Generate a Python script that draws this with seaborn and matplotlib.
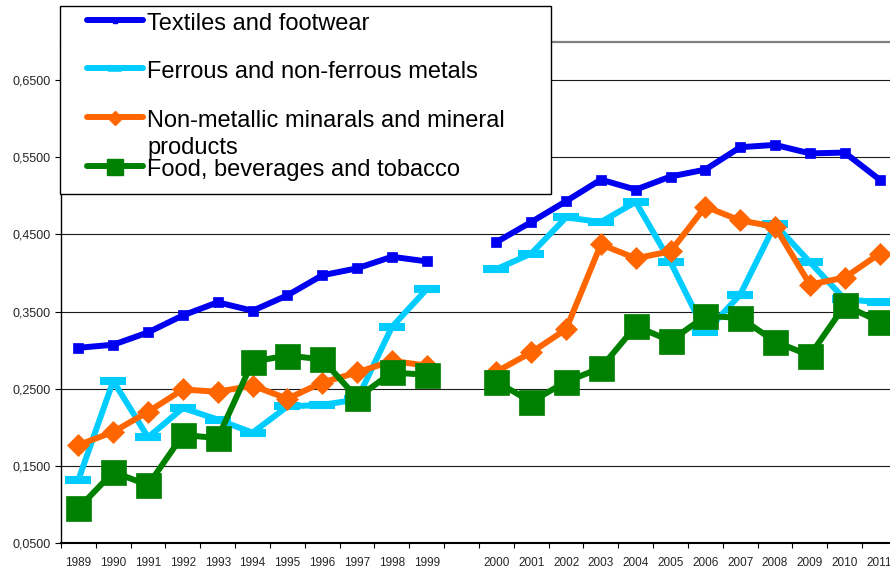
import matplotlib
matplotlib.use("Agg")
import matplotlib.pyplot as plt
from matplotlib.lines import Line2D
from matplotlib.patches import Rectangle
from matplotlib.ticker import FixedLocator, FuncFormatter
import pandas as pd
import seaborn as sns

# ---- data -------------------------------------------------------------
years = [1989, 1990, 1991, 1992, 1993, 1994, 1995, 1996, 1997, 1998, 1999,
         2000, 2001, 2002, 2003, 2004, 2005, 2006, 2007, 2008, 2009, 2010, 2011]

textiles = [0.303, 0.307, 0.323, 0.345, 0.362, 0.351, 0.371, 0.397, 0.406, 0.421, 0.415,
            0.440, 0.466, 0.493, 0.521, 0.508, 0.525, 0.534, 0.563, 0.566, 0.555, 0.556, 0.521]
metals = [0.132, 0.260, 0.187, 0.225, 0.210, 0.193, 0.227, 0.229, 0.236, 0.330, 0.379,
          0.405, 0.425, 0.472, 0.466, 0.492, 0.414, 0.323, 0.372, 0.463, 0.414, 0.366, 0.362]
minerals = [0.177, 0.194, 0.220, 0.249, 0.246, 0.254, 0.237, 0.258, 0.271, 0.286, 0.280,
            0.272, 0.297, 0.327, 0.437, 0.419, 0.428, 0.486, 0.468, 0.460, 0.385, 0.394, 0.425]
food = [0.095, 0.142, 0.125, 0.190, 0.186, 0.285, 0.293, 0.288, 0.238, 0.271, 0.268,
        0.259, 0.233, 0.259, 0.277, 0.331, 0.312, 0.344, 0.342, 0.311, 0.293, 0.358, 0.337]

series_names = ["Textiles and footwear",
                "Ferrous and non-ferrous metals",
                "Non-metallic minarals and mineral\nproducts",
                "Food, beverages and tobacco"]
series_values = [textiles, metals, minerals, food]

y_ticks = [0.05, 0.15, 0.25, 0.35, 0.45, 0.55, 0.65]

# ---- styles -----------------------------------------------------------
styles = [
    dict(color="#0000F0", marker="s", markersize=6.5, markeredgewidth=0.5),
    dict(color="#00CCFF", marker="_", markersize=18.5, markeredgewidth=5.8),
    dict(color="#FF6600", marker="D", markersize=11.5, markeredgewidth=0.5),
    dict(color="#008000", marker="s", markersize=18, markeredgewidth=0.5),
]
legend_styles = [
    dict(marker="s", markersize=3),
    dict(marker="_", markersize=10, markeredgewidth=4),
    dict(marker="D", markersize=7.5),
    dict(marker="s", markersize=12),
]

sns.set_style("white")
plt.rcParams["font.family"] = ["Liberation Sans", "DejaVu Sans"]

W, H = 890, 574
fig = plt.figure(figsize=(W / 100, H / 100), dpi=100)
ax = fig.add_axes([61 / W, 31 / H, 829 / W, 501.5 / H])

# one empty category slot separates the 1990s from the 2000s
positions = [i + (1 if y >= 2000 else 0) for i, y in enumerate(years)]
periods = ["1989-1999" if y < 2000 else "2000-2011" for y in years]

for name, vals, st in zip(series_names, series_values, styles):
    df = pd.DataFrame({"pos": positions, "value": vals, "period": periods})
    sns.lineplot(data=df, x="pos", y="value", units="period", estimator=None,
                 ax=ax, legend=False, linewidth=4.3,
                 color=st["color"], marker=st["marker"],
                 markersize=st["markersize"],
                 markeredgewidth=st["markeredgewidth"],
                 markeredgecolor=st["color"], markerfacecolor=st["color"],
                 solid_joinstyle="round", solid_capstyle="round")

# ---- axes -------------------------------------------------------------
ax.set_xlim(-0.5, 23.3)
ax.set_ylim(0.05, 0.70)
ax.set_xlabel("")
ax.set_ylabel("")

ax.yaxis.set_major_locator(FixedLocator(y_ticks))
ax.yaxis.set_major_formatter(FuncFormatter(lambda v, p: f"{v:.4f}".replace(".", ",")))
ax.yaxis.grid(True, color="#1a1a1a", linewidth=0.8)
ax.set_axisbelow(True)
ax.tick_params(axis="y", which="major", left=True, length=4.3, width=0.8,
               direction="out", labelsize=9, pad=3, color="black")

ax.xaxis.set_major_locator(FixedLocator(positions))
ax.set_xticklabels([str(y) for y in years])
ax.xaxis.set_minor_locator(FixedLocator([p - 0.5 for p in range(25)]))
ax.tick_params(axis="x", which="major", bottom=True, length=0, labelsize=8.5, pad=10)
ax.tick_params(axis="x", which="minor", bottom=True, length=3.6, width=0.8,
               direction="out", color="black")

for side in ["left", "bottom"]:
    ax.spines[side].set_color("black")
ax.spines["left"].set_linewidth(1.0)
ax.spines["bottom"].set_linewidth(1.5)
ax.spines["top"].set_color("#808080")
ax.spines["top"].set_linewidth(1.6)
ax.spines["right"].set_visible(False)


# ---- legend box, laid out in pixel coordinates ---------------------------
def fx(x):
    return x / W


def fy(y):
    return 1 - y / H


fig.add_artist(Rectangle((fx(60), fy(194)), fx(551) - fx(60), fy(6) - fy(194),
                         transform=fig.transFigure, facecolor="white",
                         edgecolor="black", linewidth=1.0, zorder=5))

handle_rows = [20, 68, 117, 166]
for name, st, lst, yrow in zip(series_names, styles, legend_styles, handle_rows):
    fig.add_artist(Line2D([fx(87), fx(143)], [fy(yrow), fy(yrow)],
                          transform=fig.transFigure, color=st["color"],
                          linewidth=4.3, solid_capstyle="round", zorder=6))
    fig.add_artist(Line2D([fx(115)], [fy(yrow + 1)], transform=fig.transFigure,
                          linestyle="none", color=st["color"],
                          markeredgecolor=st["color"], markerfacecolor=st["color"],
                          zorder=7, **lst))
    # each label line gets its own baseline so a wrapped label runs downward
    for k, line in enumerate(name.split("\n")):
        fig.text(fx(147), fy(yrow + 10 + 27 * k), line, fontsize=17, color="black",
                 ha="left", va="baseline", zorder=8)

fig.savefig("out.png", dpi=100)
